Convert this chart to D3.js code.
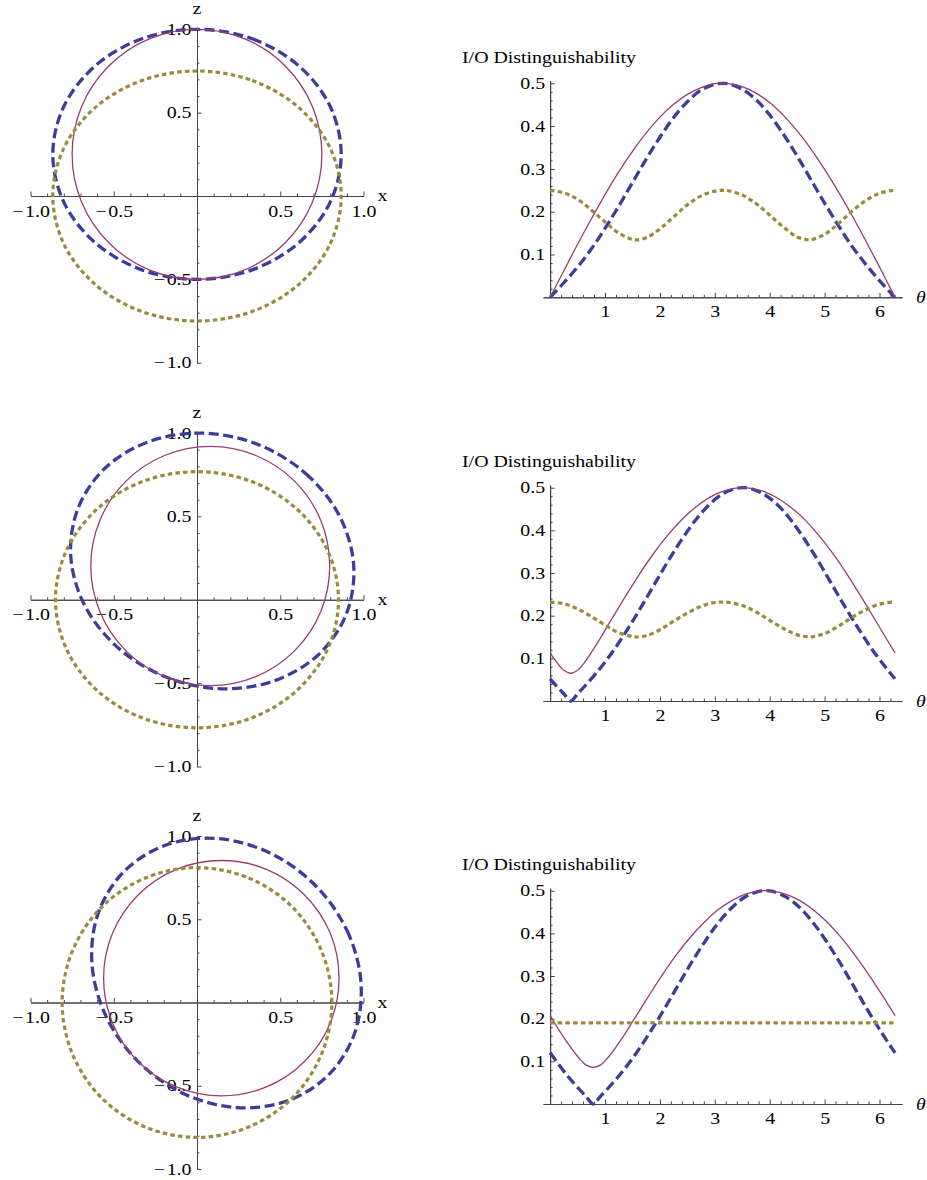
<!DOCTYPE html>
<html lang="en">
<head>
<meta charset="UTF-8" />
<title>I/O Distinguishability</title>
<style>
  html, body { margin: 0; background: #fff; }
  svg { display: block; }
  text { font-family: "Liberation Serif", "DejaVu Serif", serif; font-size: 16.3px; fill: #000; }
  .axis path, .axis line { stroke: #444; stroke-width: 1; }
</style>
<script src="https://cdn.jsdelivr.net/npm/d3@7"></script>
</head>
<body>
<svg id="chart" width="927" height="1180"></svg>
<script>
// tick labels
const xzTicks = [-1.0, -0.5, 0.5, 1.0];
const thetaTicks = [1, 2, 3, 4, 5, 6];
const distTicks = [0.1, 0.2, 0.3, 0.4, 0.5];

// left column: (x, z) points around each closed curve
const blochBlue1 = [[0,1],[0.331,0.943],[0.612,0.780],[0.800,0.537],[0.866,0.25],[0.800,-0.037],[0.612,-0.280],[0.331,-0.443],[0,-0.5],[-0.331,-0.443],[-0.612,-0.280],[-0.800,-0.037],[-0.866,0.25],[-0.800,0.537],[-0.612,0.780],[-0.331,0.943]];
const blochRed1 = [[0,1],[0.287,0.943],[0.530,0.780],[0.693,0.537],[0.75,0.25],[0.693,-0.037],[0.530,-0.280],[0.287,-0.443],[0,-0.5],[-0.287,-0.443],[-0.530,-0.280],[-0.693,-0.037],[-0.75,0.25],[-0.693,0.537],[-0.530,0.780],[-0.287,0.943]];
const blochGold1 = [[0,0.75],[0.331,0.693],[0.612,0.530],[0.800,0.287],[0.866,0],[0.800,-0.287],[0.612,-0.530],[0.331,-0.693],[0,-0.75],[-0.331,-0.693],[-0.612,-0.530],[-0.800,-0.287],[-0.866,0],[-0.800,0.287],[-0.612,0.530],[-0.331,0.693]];

const blochBlue2 = [[0.366,0.931],[0.654,0.756],[0.856,0.502],[0.941,0.207],[0.897,-0.085],[0.731,-0.328],[0.467,-0.485],[0.146,-0.534],[-0.183,-0.465],[-0.471,-0.291],[-0.673,-0.037],[-0.758,0.259],[-0.714,0.550],[-0.548,0.793],[-0.284,0.950],[0.037,0.999]];
const blochRed2 = [[0.080,0.920],[0.354,0.865],[0.587,0.710],[0.743,0.477],[0.797,0.202],[0.743,-0.072],[0.587,-0.305],[0.354,-0.461],[0.080,-0.515],[-0.195,-0.461],[-0.428,-0.305],[-0.583,-0.072],[-0.638,0.202],[-0.583,0.477],[-0.428,0.710],[-0.195,0.865]];
const blochGold2 = [[0,0.768],[0.325,0.710],[0.601,0.543],[0.785,0.294],[0.85,0],[0.785,-0.294],[0.601,-0.543],[0.325,-0.710],[0,-0.768],[-0.325,-0.710],[-0.601,-0.543],[-0.785,-0.294],[-0.85,0],[-0.785,0.294],[-0.601,0.543],[-0.325,0.710]];

const blochBlue3 = [[0.707,0.707],[0.901,0.432],[0.985,0.119],[0.946,-0.186],[0.789,-0.436],[0.540,-0.592],[0.235,-0.631],[-0.079,-0.548],[-0.354,-0.354],[-0.548,-0.079],[-0.631,0.235],[-0.592,0.540],[-0.436,0.789],[-0.186,0.946],[0.119,0.985],[0.432,0.901]];
const blochRed3 = [[0.146,0.853],[0.417,0.800],[0.646,0.646],[0.800,0.417],[0.853,0.146],[0.800,-0.124],[0.646,-0.354],[0.417,-0.507],[0.146,-0.561],[-0.124,-0.507],[-0.354,-0.354],[-0.507,-0.124],[-0.561,0.146],[-0.507,0.417],[-0.354,0.646],[-0.124,0.800]];
const blochGold3 = [[0,0.81],[0.310,0.748],[0.573,0.573],[0.748,0.310],[0.81,0],[0.748,-0.310],[0.573,-0.573],[0.310,-0.748],[0,-0.81],[-0.310,-0.748],[-0.573,-0.573],[-0.748,-0.310],[-0.81,0],[-0.748,0.310],[-0.573,0.573],[-0.310,0.748]];

// right column: (theta, distinguishability)
const distBlue1 = [[0,0],[0.25,0.034],[0.5,0.071],[0.75,0.113],[1,0.161],[1.25,0.213],[1.5,0.268],[1.75,0.323],[2,0.374],[2.25,0.420],[2.5,0.457],[2.75,0.484],[3,0.498],[3.142,0.5],[3.25,0.499],[3.5,0.486],[3.75,0.462],[4,0.426],[4.25,0.381],[4.5,0.330],[4.75,0.275],[5,0.220],[5.25,0.168],[5.5,0.119],[5.75,0.077],[6,0.039],[6.25,0.004],[6.283,0]];
const distRed1 = [[0,0],[0.25,0.062],[0.5,0.124],[0.75,0.183],[1,0.240],[1.25,0.293],[1.5,0.341],[1.75,0.384],[2,0.421],[2.25,0.451],[2.5,0.474],[2.75,0.490],[3,0.499],[3.142,0.5],[3.25,0.499],[3.5,0.492],[3.75,0.477],[4,0.455],[4.25,0.425],[4.5,0.389],[4.75,0.347],[5,0.299],[5.25,0.247],[5.5,0.191],[5.75,0.132],[6,0.071],[6.25,0.008],[6.283,0]];
const distGold1 = [[0,0.25],[0.25,0.244],[0.5,0.229],[0.75,0.204],[1,0.176],[1.25,0.150],[1.5,0.135],[1.571,0.134],[1.75,0.139],[2,0.160],[2.25,0.188],[2.5,0.216],[2.75,0.237],[3,0.248],[3.142,0.25],[3.25,0.249],[3.5,0.239],[3.75,0.219],[4,0.192],[4.25,0.164],[4.5,0.141],[4.712,0.134],[4.75,0.134],[5,0.147],[5.25,0.172],[5.5,0.201],[5.75,0.226],[6,0.243],[6.25,0.250],[6.283,0.25]];

const distBlue2 = [[0,0.052],[0.125,0.034],[0.25,0.017],[0.375,0],[0.5,0.017],[0.625,0.034],[0.875,0.071],[1.125,0.113],[1.375,0.161],[1.625,0.213],[1.875,0.268],[2.125,0.323],[2.375,0.374],[2.625,0.420],[2.875,0.457],[3.125,0.484],[3.375,0.498],[3.517,0.5],[3.625,0.499],[3.875,0.486],[4.125,0.462],[4.375,0.426],[4.625,0.381],[4.875,0.330],[5.125,0.275],[5.375,0.220],[5.625,0.168],[5.875,0.119],[6.125,0.077],[6.283,0.052]];
const distRed2 = [[0,0.113],[0.125,0.090],[0.25,0.072],[0.375,0.065],[0.5,0.072],[0.625,0.090],[0.875,0.139],[1.125,0.193],[1.375,0.246],[1.625,0.297],[1.875,0.344],[2.125,0.386],[2.375,0.422],[2.625,0.452],[2.875,0.475],[3.125,0.491],[3.375,0.499],[3.517,0.5],[3.625,0.499],[3.875,0.492],[4.125,0.477],[4.375,0.455],[4.625,0.427],[4.875,0.391],[5.125,0.350],[5.375,0.304],[5.625,0.253],[5.875,0.200],[6.125,0.146],[6.283,0.113]];
const distGold2 = [[0,0.232],[0.25,0.228],[0.5,0.216],[0.75,0.198],[1,0.178],[1.25,0.160],[1.5,0.151],[1.571,0.150],[1.75,0.153],[2,0.167],[2.25,0.187],[2.5,0.206],[2.75,0.222],[3,0.231],[3.142,0.232],[3.25,0.231],[3.5,0.224],[3.75,0.209],[4,0.189],[4.25,0.170],[4.5,0.155],[4.712,0.150],[4.75,0.150],[5,0.158],[5.25,0.175],[5.5,0.196],[5.75,0.214],[6,0.227],[6.25,0.232],[6.283,0.232]];

const distBlue3 = [[0,0.120],[0.285,0.071],[0.535,0.034],[0.66,0.017],[0.785,0],[0.91,0.017],[1.035,0.034],[1.285,0.071],[1.535,0.113],[1.785,0.161],[2.035,0.213],[2.285,0.268],[2.535,0.323],[2.785,0.374],[3.035,0.420],[3.285,0.457],[3.535,0.484],[3.785,0.498],[3.927,0.5],[4.035,0.499],[4.285,0.486],[4.535,0.462],[4.785,0.426],[5.035,0.381],[5.285,0.330],[5.535,0.275],[5.785,0.220],[6.035,0.168],[6.283,0.120]];
const distRed3 = [[0,0.207],[0.285,0.149],[0.535,0.106],[0.66,0.091],[0.785,0.086],[0.91,0.091],[1.035,0.106],[1.285,0.149],[1.535,0.200],[1.785,0.251],[2.035,0.301],[2.285,0.347],[2.535,0.388],[2.785,0.423],[3.035,0.453],[3.285,0.475],[3.535,0.491],[3.785,0.499],[3.927,0.5],[4.035,0.499],[4.285,0.492],[4.535,0.478],[4.785,0.456],[5.035,0.428],[5.285,0.393],[5.535,0.352],[5.785,0.307],[6.035,0.258],[6.283,0.207]];
const distGold3 = [[0,0.19],[3.142,0.19],[6.283,0.19]];

// layout of the three rows (pixel positions)
const rows = [
  { zBot: 362.7, zTop: 29.3, y0: 297.3, y5: 83.3, bloch: [blochBlue1, blochRed1, blochGold1], dist: [distBlue1, distRed1, distGold1] },
  { zBot: 766.5, zTop: 433.0, y0: 701.0, y5: 487.7, bloch: [blochBlue2, blochRed2, blochGold2], dist: [distBlue2, distRed2, distGold2] },
  { zBot: 1169.0, zTop: 836.0, y0: 1104.0, y5: 890.7, bloch: [blochBlue3, blochRed3, blochGold3], dist: [distBlue3, distRed3, distGold3] }
];

const styles = [
  { stroke: "#3d3d99", width: 3.3, dash: "10,4.5" },
  { stroke: "#993d71", width: 1.3, dash: null },
  { stroke: "#998b3d", width: 3.2, dash: "4.5,3.2" }
];

const SX = 1.22; // the glyphs in the picture are stretched sideways
const svg = d3.select("#chart");

function drawLines(g, series, lineGen) {
  series.forEach((d, i) => {
    g.append("path")
      .datum(d)
      .attr("fill", "none")
      .attr("stroke", styles[i].stroke)
      .attr("stroke-width", styles[i].width)
      .attr("stroke-dasharray", styles[i].dash)
      .attr("d", lineGen);
  });
}

function stretchBottom(sel) {
  sel.selectAll("text").attr("transform", `scale(${SX},1)`);
}
function stretchLeft(sel, pad) {
  sel.selectAll("text").attr("transform", `scale(${SX},1)`).attr("x", -pad / SX);
}

function label(g, txt, x, y, anchor, italic) {
  g.append("text")
    .attr("transform", `translate(${x},${y}) scale(${SX},1)`)
    .attr("text-anchor", anchor)
    .style("font-style", italic ? "italic" : null)
    .text(txt);
}

// minus sign with a small gap, as in the picture
const fmt1 = d => d3.format(".1f")(d).replace("\u2212", "\u2212\u200a");

rows.forEach(r => {
  // ---- left: x-z cross-section
  const x = d3.scaleLinear().domain([-1, 1]).range([30.5, 363.5]);
  const z = d3.scaleLinear().domain([-1, 1]).range([r.zBot, r.zTop]);
  const minor = d3.range(-10, 11).filter(i => i % 5 !== 0).map(i => i / 10);
  const gl = svg.append("g");

  gl.append("g").attr("class", "axis").attr("transform", `translate(0,${z(0)})`)
    .call(d3.axisBottom(x).tickValues(minor).tickSize(-2.5).tickSizeOuter(0).tickFormat(""));
  gl.append("g").attr("class", "axis").attr("transform", `translate(0,${z(0)})`)
    .call(d3.axisBottom(x).tickValues(xzTicks).tickSize(-4.5).tickSizeOuter(0).tickPadding(9).tickFormat(fmt1))
    .call(stretchBottom);
  gl.append("g").attr("class", "axis").attr("transform", `translate(${x(0)},0)`)
    .call(d3.axisLeft(z).tickValues(minor).tickSize(-2.5).tickSizeOuter(0).tickFormat(""));
  gl.append("g").attr("class", "axis").attr("transform", `translate(${x(0)},0)`)
    .call(d3.axisLeft(z).tickValues(xzTicks).tickSize(-4.5).tickSizeOuter(0).tickPadding(5.5).tickFormat(fmt1))
    .call(s => stretchLeft(s, 5.5));

  label(gl, "x", x(1) + 14, z(0) + 5, "start");
  label(gl, "z", x(0), z(1) - 15, "middle");

  const closed = d3.line().x(d => x(d[0])).y(d => z(d[1])).curve(d3.curveCatmullRomClosed);
  drawLines(gl, r.bloch, closed);

  // ---- right: distinguishability vs theta
  const t = d3.scaleLinear().domain([-0.13, 6.41]).range([543, 902]);
  const y = d3.scaleLinear().domain([0, 0.5]).range([r.y0, r.y5]);
  const yAx = y.copy().domain([0, 0.506]).range([r.y0, y(0.506)]);
  const tMinor = d3.range(1, 32).filter(i => i % 5 !== 0).map(i => i / 5);
  const yMinor = d3.range(1, 26).filter(i => i % 5 !== 0).map(i => i / 50);
  const gr = svg.append("g");

  gr.append("g").attr("class", "axis").attr("transform", `translate(0,${y(0)})`)
    .call(d3.axisBottom(t).tickValues(tMinor).tickSize(-2.5).tickSizeOuter(0).tickFormat(""));
  gr.append("g").attr("class", "axis").attr("transform", `translate(0,${y(0)})`)
    .call(d3.axisBottom(t).tickValues(thetaTicks).tickSize(-4.5).tickSizeOuter(0).tickPadding(8.5).tickFormat(d3.format("d")))
    .call(stretchBottom);
  gr.append("g").attr("class", "axis").attr("transform", `translate(${t(0)},0)`)
    .call(d3.axisLeft(yAx).tickValues(yMinor).tickSize(-2.5).tickSizeOuter(0).tickFormat(""));
  gr.append("g").attr("class", "axis").attr("transform", `translate(${t(0)},0)`)
    .call(d3.axisLeft(yAx).tickValues(distTicks).tickSize(-4.5).tickSizeOuter(0).tickPadding(5).tickFormat(fmt1))
    .call(s => stretchLeft(s, 5));

  label(gr, "I/O Distinguishability", 462, y(0.5) - 20.5, "start");
  label(gr, "\u03b8", 916, y(0) + 6, "start", true);

  const open = d3.line().x(d => t(d[0])).y(d => y(d[1])).curve(d3.curveCatmullRom);
  drawLines(gr, r.dist, open);
});
</script>
</body>
</html>
